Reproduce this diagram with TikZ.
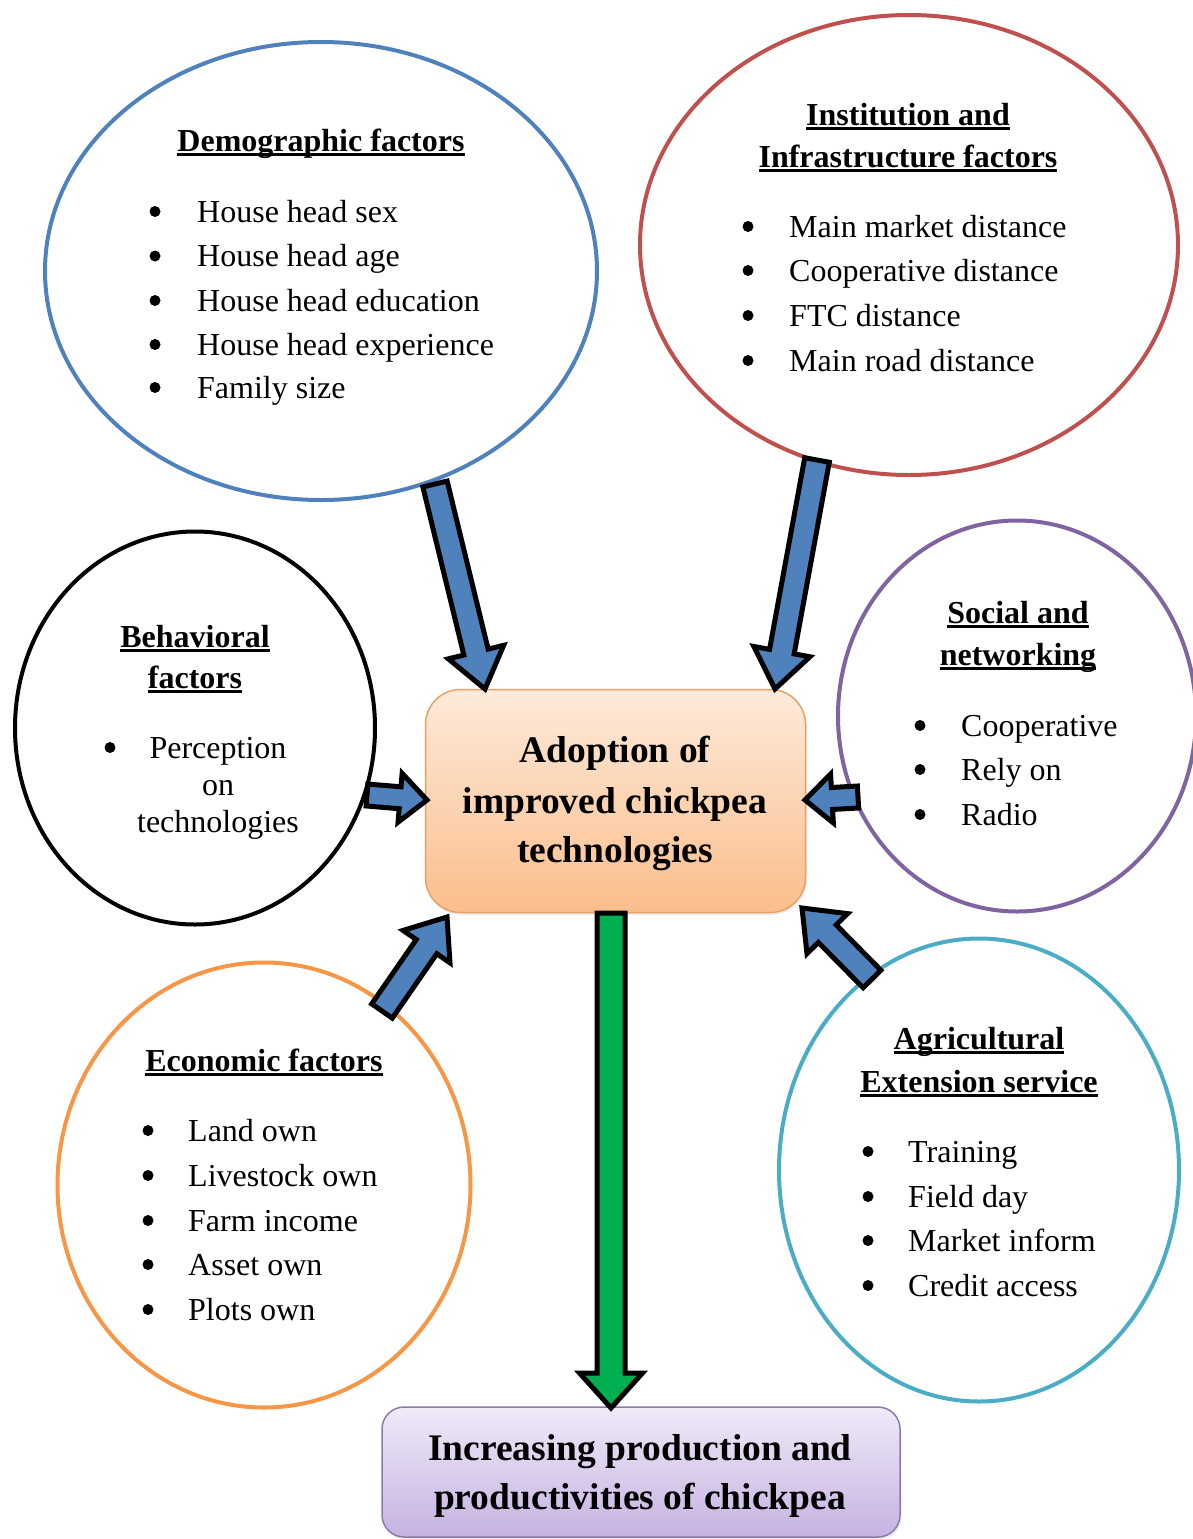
\documentclass[tikz,border=0pt]{standalone}
\usepackage{fontspec}
\setmainfont{Liberation Serif}
\usetikzlibrary{calc,shapes.geometric,shadows}
\definecolor{cDemo}{HTML}{4F81BD}
\definecolor{cInst}{HTML}{C0504D}
\definecolor{cSoc}{HTML}{8064A2}
\definecolor{cEco}{HTML}{F79646}
\definecolor{cAgri}{HTML}{4BACC6}
\definecolor{arrowblue}{HTML}{4F81BD}
\definecolor{arrowgreen}{HTML}{00B050}
\definecolor{adoptTop}{HTML}{FDEADA}
\definecolor{adoptBot}{HTML}{FBBE8C}
\definecolor{adoptLine}{HTML}{E9A066}
\definecolor{incTop}{HTML}{EFEAF8}
\definecolor{incBot}{HTML}{C6B2E2}
\definecolor{incLine}{HTML}{8C7BA8}

\newcommand\myul[1]{\setbox0=\hbox{#1}\rlap{\rule[-4.5pt]{\wd0}{2.2pt}}\box0}

\newcommand\blockarrow[6]{% style, from, to, shaft half width, head half width, head length
  \coordinate (bac) at ($(#3)!#6!(#2)$);
  \draw[#1] ($(#2)!#4!90:(#3)$) -- ($(bac)!#4!90:(#3)$) -- ($(bac)!#5!90:(#3)$) -- (#3)
     -- ($(bac)!#5!-90:(#3)$) -- ($(bac)!#4!-90:(#3)$) -- ($(#2)!#4!-90:(#3)$) -- cycle;
}

\begin{document}
\begin{tikzpicture}[x=1pt,y=-1pt,
  ell/.style={ellipse, line width=4pt, inner sep=0pt},
  bodytxt/.style={font=\fontsize{32}{38}\selectfont, inner sep=0pt, anchor=base west},
  ctxt/.style={font=\fontsize{32}{38}\selectfont, inner sep=0pt, anchor=base},
  bul/.style={circle, fill=black, inner sep=0pt, minimum size=11pt},
  ttl/.style={font=\fontsize{32}{38}\selectfont\bfseries, inner sep=0pt, anchor=base},
  big/.style={font=\fontsize{37.5}{44}\selectfont\bfseries, inner sep=0pt, anchor=base},
  barrow/.style={draw=black, line width=5pt, fill=arrowblue, line join=miter},
  garrow/.style={draw=black, line width=5pt, fill=arrowgreen, line join=miter},
]
\useasboundingbox (0,0) rectangle (1193,1539);

% ellipses
\node[ell, draw=cDemo, minimum width=552pt, minimum height=458pt] (demo) at (321,271) {};
\node[ell, draw=cInst, minimum width=538pt, minimum height=460pt] (inst) at (909,245) {};
\node[ell, draw=black, minimum width=360pt, minimum height=393pt] (behav) at (195,728) {};
\node[ell, draw=cSoc, minimum width=358pt, minimum height=391pt] (soc) at (1017,716) {};
\node[ell, draw=cEco, minimum width=413pt, minimum height=445pt] (eco) at (264,1185) {};
\node[ell, draw=cAgri, minimum width=400pt, minimum height=463pt] (agri) at (979,1170) {};

% boxes
\node[rounded corners=35pt, minimum width=380pt, minimum height=223pt, draw=adoptLine, line width=1.5pt,
  top color=adoptTop, bottom color=adoptBot,
  drop shadow={opacity=0.15, shadow xshift=1.5pt, shadow yshift=-2.5pt}] (adopt) at (615.5,801) {};
\node[rounded corners=22pt, minimum width=518pt, minimum height=130pt, draw=incLine, line width=1.5pt,
  top color=incTop, bottom color=incBot,
  drop shadow={opacity=0.15, shadow xshift=1.5pt, shadow yshift=-2.5pt}] (inc) at (641,1472) {};

\node[big] (adopt-l1) at (615,762) {Adoption of};
\node[big] (adopt-l2) at (615,813) {improved chickpea};
\node[big] (adopt-l3) at (615,862) {technologies};
\node[big] (inc-l1) at (640,1460) {Increasing production and};
\node[big] (inc-l2) at (640,1509) {productivities of chickpea};

% demographic
\node[ttl] (demo-t) at (321,151) {\myul{Demographic factors}};
\foreach \yy/\itxt [count=\k] in {222/House head sex, 266.5/House head age, 311/House head education, 355/House head experience, 398/Family size}{
  \node[bul] (demo-b\k) at (155,\yy-10.5) {};
  \node[bodytxt] (demo-i\k) at (197,\yy) {\itxt};
}

% institution
\node[ttl] (inst-t1) at (908,125) {\myul{Institution and}};
\node[ttl] (inst-t2) at (908,167) {\myul{Infrastructure factors}};
\foreach \yy/\itxt [count=\k] in {237/Main market distance, 281/Cooperative distance, 326/FTC distance, 371/Main road distance}{
  \node[bul] (inst-b\k) at (748,\yy-10.5) {};
  \node[bodytxt] (inst-i\k) at (789,\yy) {\itxt};
}

% behavioral
\node[ttl] (behav-t1) at (195,647) {\myul{Behavioral}};
\node[ttl] (behav-t2) at (195,688) {\myul{factors}};
\node[bul] (behav-b1) at (110,747.5) {};
\node[ctxt] (behav-i1) at (218,758) {Perception};
\node[ctxt] (behav-i2) at (218,795) {on};
\node[ctxt] (behav-i3) at (218,832) {technologies};

% social
\node[ttl] (soc-t1) at (1018,623) {\myul{Social and}};
\node[ttl] (soc-t2) at (1018,665) {\myul{networking}};
\foreach \yy/\itxt [count=\k] in {736/Cooperative, 780/Rely on, 825/Radio}{
  \node[bul] (soc-b\k) at (920,\yy-10.5) {};
  \node[bodytxt] (soc-i\k) at (961,\yy) {\itxt};
}

% economic
\node[ttl] (eco-t) at (264,1071) {\myul{Economic factors}};
\foreach \yy/\itxt [count=\k] in {1141/Land own, 1186/Livestock own, 1231/Farm income, 1275/Asset own, 1320/Plots own}{
  \node[bul] (eco-b\k) at (148,\yy-10.5) {};
  \node[bodytxt] (eco-i\k) at (188,\yy) {\itxt};
}

% agricultural
\node[ttl] (agri-t1) at (979,1049) {\myul{Agricultural}};
\node[ttl] (agri-t2) at (979,1092) {\myul{Extension service}};
\foreach \yy/\itxt [count=\k] in {1162/Training, 1207/Field day, 1251/Market inform, 1296/Credit access}{
  \node[bul] (agri-b\k) at (868,\yy-10.5) {};
  \node[bodytxt] (agri-i\k) at (908,\yy) {\itxt};
}

% arrow end points
\coordinate (demo-out) at (435,484);
\coordinate (demo-in) at (485,689);
\coordinate (inst-out) at (817,460);
\coordinate (inst-in) at (775,689);
\coordinate (behav-out) at (367,795);
\coordinate (behav-in) at (427,800);
\coordinate (soc-out) at (858,797);
\coordinate (soc-in) at (805,800);
\coordinate (eco-out) at (382,1011);
\coordinate (eco-in) at (447,917);
\coordinate (agri-out) at (872,979);
\coordinate (agri-in) at (802,908);
\coordinate (adopt-out) at (611,913);
\coordinate (inc-in) at (611,1408);

\blockarrow{barrow}{demo-out}{demo-in}{12.5pt}{28.5pt}{38pt}
\blockarrow{barrow}{inst-out}{inst-in}{12.5pt}{28.5pt}{38pt}
\blockarrow{barrow}{behav-out}{behav-in}{11pt}{24.5pt}{27pt}
\blockarrow{barrow}{soc-out}{soc-in}{11pt}{24.5pt}{27pt}
\blockarrow{barrow}{eco-out}{eco-in}{12.5pt}{28.5pt}{36pt}
\blockarrow{barrow}{agri-out}{agri-in}{12.5pt}{28.5pt}{36pt}
\blockarrow{garrow}{adopt-out}{inc-in}{14pt}{31.5pt}{35pt}
\end{tikzpicture}
\end{document}
